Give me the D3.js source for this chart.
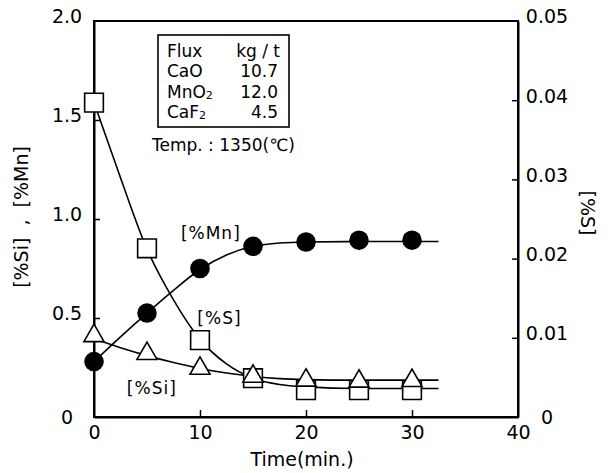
<!DOCTYPE html>
<html>
<head>
<meta charset="utf-8">
<script src="https://cdn.jsdelivr.net/npm/d3@7"></script>
<style>
  body { margin: 0; background: #fff; }
  text { font-family: "DejaVu Sans", sans-serif; fill: #000; }
</style>
</head>
<body>
<div id="chart"></div>
<script>
// measured points
const times = [0, 5, 10, 15, 20, 25, 30];
const mnValues = [0.28, 0.525, 0.75, 0.862, 0.884, 0.893, 0.893];
const siValues = [0.41, 0.32, 0.245, 0.205, 0.185, 0.18, 0.183];
const sValues = [0.0397, 0.0213, 0.0097, 0.0049, 0.0034, 0.0034, 0.0034];

// fitted curves
const curveTimes = [0, 2.5, 5, 7.5, 10, 12.5, 15, 17.5, 20, 25, 32.5];
const mnCurve = [0.28, 0.405, 0.525, 0.64, 0.745, 0.818, 0.862, 0.879, 0.884, 0.886, 0.886];
const siCurve = [0.395, 0.35, 0.31, 0.275, 0.245, 0.222, 0.205, 0.194, 0.189, 0.186, 0.186];
const sCurve = [0.0397, 0.0302, 0.0212, 0.0148, 0.0098, 0.0067, 0.0049, 0.0041, 0.0038, 0.0036, 0.0036];

// ticks
const xTicks = [0, 10, 20, 30, 40];
const leftTicks = [0, 0.5, 1.0, 1.5, 2.0];
const rightTicks = [0, 0.01, 0.02, 0.03, 0.04, 0.05];

// flux table
const fluxNames = ["CaO", "MnO", "CaF"];
const fluxSubs = ["", "2", "2"];
const fluxValues = ["10.7", "12.0", "4.5"];

let margin = { top: 21, right: 91, bottom: 56, left: 94 },
  width = 609 - margin.left - margin.right,
  height = 473 - margin.top - margin.bottom;

let svg = d3
  .select("#chart")
  .append("svg")
  .attr("width", 609)
  .attr("height", 473)
  .append("g")
  .attr("transform", "translate(" + margin.left + "," + margin.top + ")");

let x = d3.scaleLinear().domain([0, 40]).range([0, width]);
let yL = d3.scaleLinear().domain([0, 2]).range([height, 0]);
let yR = d3.scaleLinear().domain([0, 0.05]).range([height, 0]);

// frame
svg.append("rect")
  .attr("width", width).attr("height", height)
  .attr("fill", "none").attr("stroke", "#000").attr("stroke-width", 2);

// axes with inward ticks
let fmtL = d => (d === 0 ? "0" : d3.format(".1f")(d));
let fmtR = d => (d === 0 ? "0" : d3.format(".2f")(d));

let bottomAxis = svg.append("g")
  .attr("transform", "translate(0," + height + ")")
  .call(d3.axisBottom(x).tickValues(xTicks).tickSize(-7).tickPadding(9).tickSizeOuter(0));
let leftAxis = svg.append("g")
  .call(d3.axisLeft(yL).tickValues(leftTicks).tickFormat(fmtL).tickSize(-6).tickSizeOuter(0));
let rightAxis = svg.append("g")
  .attr("transform", "translate(" + width + ",0)")
  .call(d3.axisRight(yR).tickValues(rightTicks).tickFormat(fmtR).tickSize(-6).tickSizeOuter(0));

[bottomAxis, leftAxis, rightAxis].forEach(g => {
  g.select(".domain").attr("stroke", "#000").attr("stroke-width", 2);
  g.selectAll(".tick line").attr("stroke", "#000").attr("stroke-width", 1.5);
  g.selectAll("text").attr("font-family", "DejaVu Sans").attr("font-size", 19).attr("fill", "#000");
});
bottomAxis.selectAll(".tick line").filter(d => d === 0 || d === 40).remove();
leftAxis.selectAll(".tick line").filter(d => d === 0 || d === 2).remove();
rightAxis.selectAll(".tick line").filter(d => d === 0 || d === 0.05).remove();
bottomAxis.selectAll("text").attr("dy", "0.71em");
leftAxis.selectAll("text").attr("text-anchor", "middle").attr("x", -27).attr("dy", d => (d === 0 ? "0.32em" : "0.1em"));
rightAxis.selectAll("text").attr("text-anchor", "middle").attr("x", 29).attr("dy", d => (d === 0 ? "0.32em" : "0.1em"));

// axis titles
svg.append("text")
  .attr("x", width / 2 - 4).attr("y", height + 49)
  .attr("text-anchor", "middle").attr("font-size", 19)
  .text("Time(min.)");
svg.append("text")
  .attr("transform", "translate(" + (-66) + "," + (yL(1.0) - 2) + ") rotate(-90)")
  .attr("text-anchor", "middle").attr("font-size", 19)
  .attr("xml:space", "preserve")
  .text("[%Si]  ,  [%Mn]");
svg.append("text")
  .attr("transform", "translate(" + (width + 63) + "," + (yL(1.0) - 6) + ") rotate(90)")
  .attr("text-anchor", "middle").attr("font-size", 19)
  .text("[%S]");

// curves
let line = (scale, vals) => d3.line()
  .x((d, i) => x(curveTimes[i]))
  .y((d, i) => scale(vals[i]))
  .curve(d3.curveMonotoneX)(vals);

svg.append("path").attr("d", line(yL, mnCurve)).attr("fill", "none").attr("stroke", "#000").attr("stroke-width", 1.6);
svg.append("path").attr("d", line(yR, sCurve)).attr("fill", "none").attr("stroke", "#000").attr("stroke-width", 1.6);
svg.append("path").attr("d", line(yL, siCurve)).attr("fill", "none").attr("stroke", "#000").attr("stroke-width", 1.6);

// markers
svg.append("g").selectAll("path")
  .data(mnValues).enter().append("path")
  .attr("d", d3.symbol(d3.symbolCircle, 300))
  .attr("transform", (d, i) => "translate(" + x(times[i]) + "," + yL(d) + ")")
  .attr("fill", "#000");

svg.append("g").selectAll("path")
  .data(sValues).enter().append("path")
  .attr("d", d3.symbol(d3.symbolSquare, 350))
  .attr("transform", (d, i) => "translate(" + x(times[i]) + "," + yR(d) + ")")
  .attr("fill", "#fff").attr("stroke", "#000").attr("stroke-width", 1.6);

svg.append("g").selectAll("path")
  .data(siValues).enter().append("path")
  .attr("d", d3.symbol(d3.symbolTriangle, 175))
  .attr("transform", (d, i) => "translate(" + x(times[i]) + "," + yL(d) + ")")
  .attr("fill", "#fff").attr("stroke", "#000").attr("stroke-width", 1.6);

// series labels
svg.append("text").attr("x", x(8.2)).attr("y", yL(0.9)).attr("font-size", 17).attr("letter-spacing", 1).text("[%Mn]");
svg.append("text").attr("x", x(9.75)).attr("y", yR(0.0118)).attr("font-size", 17).attr("letter-spacing", 1).text("[%S]");
svg.append("text").attr("x", x(3.1)).attr("y", yL(0.115)).attr("font-size", 17).attr("letter-spacing", 1).text("[%Si]");

// flux table box
let box = svg.append("g").attr("transform", "translate(64,14)");
box.append("rect").attr("width", 131).attr("height", 92)
  .attr("fill", "#fff").attr("stroke", "#000").attr("stroke-width", 1.6);
box.append("text").attr("x", 9).attr("y", 22).attr("font-size", 17).text("Flux");
box.append("text").attr("x", 122).attr("y", 22).attr("font-size", 17).attr("text-anchor", "end").text("kg / t");
fluxNames.forEach((name, i) => {
  let t = box.append("text").attr("x", 9).attr("y", 42 + i * 20.5).attr("font-size", 17);
  t.append("tspan").text(name);
  if (fluxSubs[i]) t.append("tspan").attr("font-size", 11).attr("dy", 1).text(fluxSubs[i]);
  box.append("text").attr("x", 120).attr("y", 42 + i * 20.5).attr("font-size", 17)
    .attr("text-anchor", "end").text(fluxValues[i]);
});

svg.append("text").attr("x", 58).attr("y", 130).attr("font-size", 17).text("Temp. : 1350(℃)");
</script>
</body>
</html>
